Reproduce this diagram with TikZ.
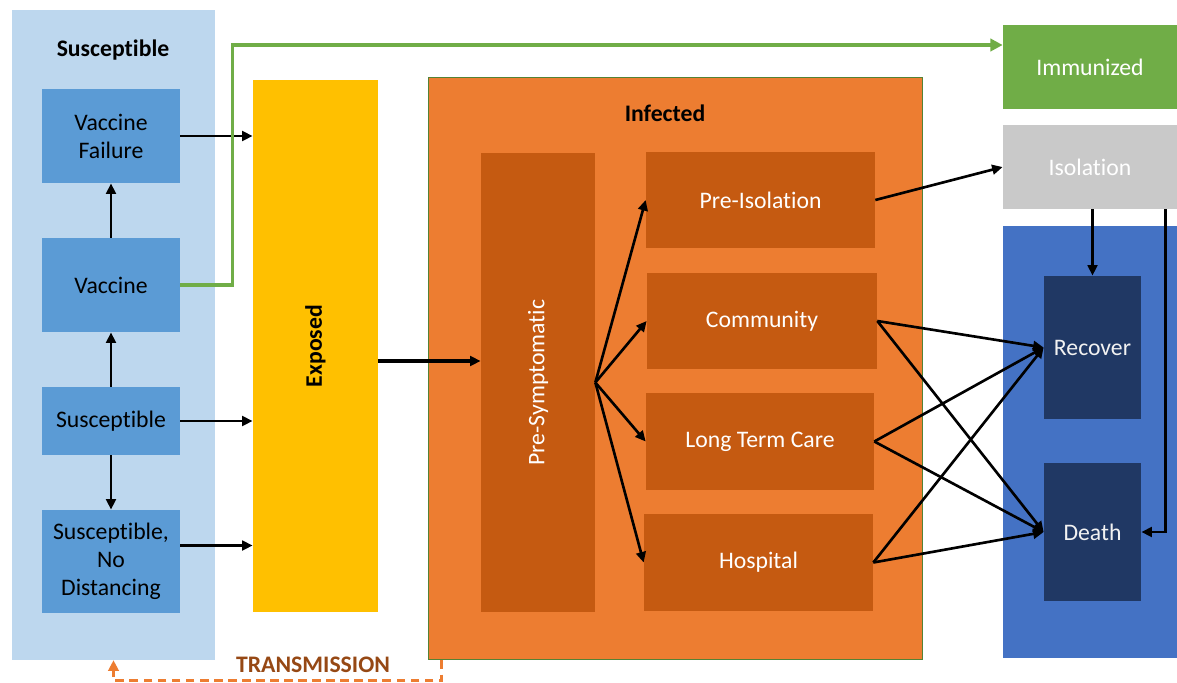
\documentclass[tikz,border=0pt]{standalone}
\usepackage{fontspec}
\setmainfont{Carlito}[Ligatures={NoCommon}]
\usepackage{tikz}
\usetikzlibrary{arrows.meta, positioning, calc}
\definecolor{susbgcolor}{RGB}{189,215,238}
\definecolor{susboxcolor}{RGB}{91,155,213}
\definecolor{exposedcolor}{RGB}{255,192,0}
\definecolor{infectedcolor}{RGB}{237,125,49}
\definecolor{infboxcolor}{RGB}{197,90,17}
\definecolor{infbordercolor}{RGB}{84,130,53}
\definecolor{immunecolor}{RGB}{112,173,71}
\definecolor{isolationcolor}{RGB}{201,201,201}
\definecolor{outcomecolor}{RGB}{68,114,196}
\definecolor{outboxcolor}{RGB}{32,56,100}
\definecolor{transcolor}{RGB}{150,72,20}

\begin{document}
\begin{tikzpicture}[
    x=0.02cm, y=-0.02cm,
    font=\fontsize{13.5}{16}\selectfont,
    block/.style={inner sep=2pt, align=center},
    susbox/.style={block, fill=susboxcolor, text=black, minimum width=2.76cm},
    infbox/.style={block, fill=infboxcolor, text=white, minimum width=4.58cm, minimum height=1.93cm},
    outbox/.style={block, fill=outboxcolor, text=white!95!black, minimum width=1.94cm},
    arr/.style={-{Triangle[length=6pt,width=5.5pt]}, line width=1.5pt}
]
    \useasboundingbox (0,0) rectangle (1177,683);

    % Susceptible
    \node[block, fill=susbgcolor, minimum width=4.06cm, minimum height=13cm] (sus) at (113.5,335) {};
    \node[font=\fontsize{13.5}{16}\selectfont\bfseries] (sustitle) at (113,50) {Susceptible};
    \node[susbox, minimum height=1.88cm] (vf) at (111,136) {Vaccine\\Failure};
    \node[susbox, minimum height=1.88cm] (vac) at (111,285) {Vaccine};
    \node[susbox, minimum height=1.36cm] (susc) at (111,421) {Susceptible};
    \node[susbox, minimum height=2.06cm] (snd) at (111,561.5) {Susceptible,\\No\\Distancing};

    % Exposed
    \node[block, fill=exposedcolor, minimum width=2.5cm, minimum height=10.64cm] (exp) at (315.5,346) {};
    \node[rotate=90, font=\fontsize{13.5}{16}\selectfont\bfseries] (exptext) at (315.5,346) {Exposed};

    % Infected
    \node[block, fill=infectedcolor, draw=infbordercolor, line width=0.6pt, minimum width=9.9cm, minimum height=11.66cm] (inf) at (675.5,368.5) {};
    \node[font=\fontsize{13.5}{16}\selectfont\bfseries] (inftitle) at (665,113) {Infected};
    \node[block, fill=infboxcolor, minimum width=2.28cm, minimum height=9.18cm] (presym) at (538,382.5) {};
    \node[rotate=90, text=white] (presymtext) at (538,382.5) {Pre-Symptomatic};
    \node[infbox] (preiso) at (760.5,200) {Pre-Isolation};
    \node[infbox, minimum width=4.6cm] (com) at (762,321) {Community};
    \node[infbox, minimum width=4.56cm] (ltc) at (760,441.5) {Long Term Care};
    \node[infbox] (hosp) at (758.5,562.5) {Hospital};

    % Outcomes
    \node[block, fill=immunecolor, text=white, minimum width=3.48cm, minimum height=1.68cm] (imm) at (1090,67) {Immunized};
    \node[block, fill=isolationcolor, text=white, minimum width=3.48cm, minimum height=1.68cm] (iso) at (1090,167) {Isolation};
    \node[block, fill=outcomecolor, minimum width=3.48cm, minimum height=8.64cm] (out) at (1090,442) {};
    \node[outbox, minimum height=2.86cm] (rec) at (1092.5,347.5) {Recover};
    \node[outbox, minimum height=2.76cm] (death) at (1092.5,532) {Death};

    % Susceptible arrows
    \draw[arr] (vac) -- (vf);
    \draw[arr] (susc) -- (vac);
    \draw[arr] (susc) -- (snd);
    \draw[arr] (vf.east) -- (vf.east -| exp.west);
    \draw[arr] (susc.east) -- (susc.east -| exp.west);
    \draw[arr] ([yshift=0.32cm]snd.east) -- ([yshift=0.32cm]snd.east -| exp.west);
    \draw[-{Triangle[length=7pt,width=7pt]}, line width=1.8pt, immunecolor] (vac.east) -- ++(52,0) |- ([yshift=0.44cm]imm.west);

    % Infection
    \draw[arr, line width=2.2pt] ([yshift=-0.3cm]exp.east) -- ([yshift=-0.3cm]exp.east -| presym.west);
    \draw[arr] (presym.east) -- (preiso.west);
    \draw[arr] (presym.east) -- (com.west);
    \draw[arr] (presym.east) -- (ltc.west);
    \draw[arr] (presym.east) -- (hosp.west);
    \draw[arr] (preiso.east) -- (iso.west);

    % Outcomes arrows
    \draw[arr] (com.east) -- (rec.west);
    \draw[arr] (com.east) -- (death.west);
    \draw[arr] (ltc.east) -- (rec.west);
    \draw[arr] (ltc.east) -- (death.west);
    \draw[arr] (hosp.east) -- (rec.west);
    \draw[arr] (hosp.east) -- (death.west);
    \draw[arr] (rec.north |- iso.south) -- (rec.north);
    \draw[arr] ([xshift=-0.24cm]iso.south east) |- (death.east);

    % Transmission
    \draw[-{Triangle[length=6pt,width=6pt]}, dash pattern=on 5pt off 3pt, line width=1.2pt, infectedcolor] ([xshift=0.28cm]inf.south west) -- ++(0,20) -| (sus.south);
    \node[font=\fontsize{13.5}{16}\selectfont\bfseries, text=transcolor] (trans) at (313,665) {TRANSMISSION};
\end{tikzpicture}
\end{document}
